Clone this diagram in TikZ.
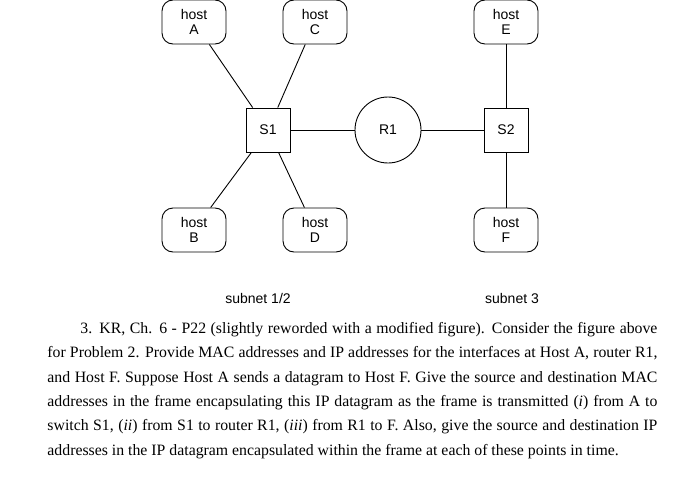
\documentclass[tikz,border=0pt]{standalone}
\usepackage{fontspec}
\setmainfont{Liberation Serif}
\newfontfamily\dsans{Liberation Sans}
\begin{document}
\begin{tikzpicture}[x=1pt,y=-1pt,
  host/.style={draw,rounded corners=11pt,minimum width=64pt,minimum height=44pt,align=center,font=\dsans\fontsize{14}{15.5}\selectfont,inner sep=1pt},
  sw/.style={draw,minimum size=44pt,font=\dsans\fontsize{14}{15}\selectfont},
  rt/.style={draw,circle,minimum size=66pt,font=\dsans\fontsize{14}{15}\selectfont},
  lbl/.style={font=\dsans\fontsize{14}{15}\selectfont},
  every path/.style={line width=0.9pt}]
\useasboundingbox (0,0) rectangle (700,476);
\node[host] (A) at (194,22) {host\\A};
\node[host] (C) at (315,22) {host\\C};
\node[host] (E) at (506,22) {host\\E};
\node[host] (B) at (194,230) {host\\B};
\node[host] (D) at (315,230) {host\\D};
\node[host] (F) at (506,230) {host\\F};
\node[sw] (S1) at (268,130) {S1};
\node[rt] (R1) at (388,130) {R1};
\node[sw] (S2) at (506,130) {S2};
\draw (A) -- (S1); \draw (C) -- (S1); \draw (B) -- (S1); \draw (D) -- (S1);
\draw (S1) -- (R1); \draw (R1) -- (S2); \draw (E) -- (S2); \draw (F) -- (S2);
\node[lbl] (l1) at (258,298) {subnet 1/2};
\node[lbl] (l3) at (512,298) {subnet 3};
\node[anchor=north west,inner sep=0pt,text width=610pt,align=justify,font=\fontsize{15.8}{24.3}\selectfont] (txt) at (47,322) {\hspace*{33pt}3. KR, Ch. 6 - P22 (slightly reworded with a modified figure).  Consider the figure above\linebreak for Problem 2.  Provide MAC addresses and IP addresses for the interfaces at Host A, router R1,\linebreak and Host F.  Suppose Host A sends a datagram to Host F.  Give the source and destination MAC\linebreak addresses in the frame encapsulating this IP datagram as the frame is transmitted (\textit{i}) from A to\linebreak switch S1, (\textit{ii}) from S1 to router R1, (\textit{iii}) from R1 to F.  Also, give the source and destination IP\linebreak addresses in the IP datagram encapsulated within the frame at each of these points in time.\par};
\end{tikzpicture}
\end{document}
